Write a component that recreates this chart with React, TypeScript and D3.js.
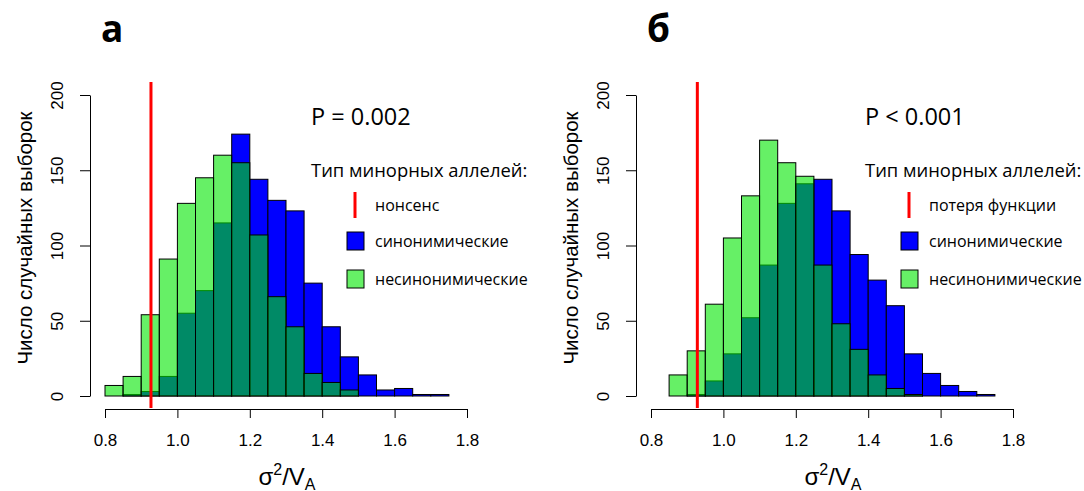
import React, { useRef, useEffect } from 'react';
import { select, scaleLinear, axisLeft, axisBottom, format } from 'd3';

// left edges of the histogram bins (width 0.05)
const binStarts = [0.8, 0.85, 0.9, 0.95, 1.0, 1.05, 1.1, 1.15, 1.2, 1.25, 1.3, 1.35, 1.4, 1.45, 1.5, 1.55, 1.6, 1.65, 1.7, 1.75];
const binWidth = 0.05;

// panel а
const synonymousA = [0, 1, 3, 13, 55, 70, 115, 174, 144, 130, 123, 75, 46, 26, 14, 4, 5, 1, 1, 0];
const nonsynonymousA = [7, 13, 54, 91, 128, 145, 160, 155, 107, 66, 46, 15, 9, 4, 0, 0, 0, 0, 0, 0];
// panel б
const synonymousB = [0, 0, 1, 10, 28, 52, 87, 128, 141, 144, 123, 94, 77, 60, 28, 15, 7, 3, 1, 0];
const nonsynonymousB = [0, 14, 30, 61, 105, 133, 170, 155, 146, 87, 48, 31, 14, 5, 1, 0, 0, 0, 0, 0];

const cutoffA = 0.927;
const cutoffB = 0.928;

const xTicks = [0.8, 1.0, 1.2, 1.4, 1.6, 1.8];
const yTicks = [0, 50, 100, 150, 200];

const legendTitle = 'Тип минорных аллелей:';
const legendSyn = 'синонимические';
const legendNonsyn = 'несинонимические';

const panels = [
  { dx: 0, lx: 311, title: 'а', pText: 'P = 0.002', redLabel: 'нонсенс', syn: synonymousA, nonsyn: nonsynonymousA, cutoff: cutoffA },
  { dx: 546, lx: 865, title: 'б', pText: 'P < 0.001', redLabel: 'потеря функции', syn: synonymousB, nonsyn: nonsynonymousB, cutoff: cutoffB },
];

const AXIS_FONT = '"Liberation Sans", Arial, sans-serif';
const TEXT_FONT = '"Open Sans", sans-serif';

function drawPanel(svg, p) {
  const g = svg.append('g');
  const x = scaleLinear().domain([0.8, 1.8]).range([105 + p.dx, 467 + p.dx]);
  const y = scaleLinear().domain([0, 200]).range([396, 95]);

  // synonymous bars first, then semi-transparent green on top
  g.selectAll('.syn')
    .data(p.syn)
    .join('rect')
    .attr('class', 'syn')
    .attr('x', (d, i) => x(binStarts[i]))
    .attr('width', (d, i) => x(binStarts[i] + binWidth) - x(binStarts[i]))
    .attr('y', d => y(d))
    .attr('height', d => y(0) - y(d))
    .attr('fill', '#0000ff')
    .attr('stroke', '#000')
    .attr('stroke-width', 1);

  g.selectAll('.nonsyn')
    .data(p.nonsyn)
    .join('rect')
    .attr('class', 'nonsyn')
    .attr('x', (d, i) => x(binStarts[i]))
    .attr('width', (d, i) => x(binStarts[i] + binWidth) - x(binStarts[i]))
    .attr('y', d => y(d))
    .attr('height', d => y(0) - y(d))
    .attr('fill', 'rgb(0,230,0)')
    .attr('fill-opacity', 0.6)
    .attr('stroke', '#000')
    .attr('stroke-width', 1);

  // y axis
  const ya = g.append('g')
    .attr('transform', `translate(${90 + p.dx},0)`)
    .call(axisLeft(y).tickValues(yTicks).tickSize(10).tickSizeOuter(0));
  ya.selectAll('text')
    .attr('transform', 'rotate(-90)')
    .attr('x', 0)
    .attr('y', -33)
    .attr('dy', '0.35em')
    .style('text-anchor', 'middle')
    .style('font-family', AXIS_FONT)
    .style('font-size', '17px')
    .attr('fill', '#000');

  g.append('text')
    .attr('transform', `translate(${32 + p.dx},238) rotate(-90)`)
    .attr('text-anchor', 'middle')
    .style('font-family', AXIS_FONT)
    .style('font-size', '20.5px')
    .text('Число случайных выборок');

  // x axis
  const xa = g.append('g')
    .attr('transform', 'translate(0,409)')
    .call(axisBottom(x).tickValues(xTicks).tickFormat(format('.1f')).tickSize(9).tickSizeOuter(0).tickPadding(16));
  xa.selectAll('text')
    .style('font-family', AXIS_FONT)
    .style('font-size', '17px')
    .attr('fill', '#000');
  [ya, xa].forEach(a => {
    a.selectAll('path, line').attr('stroke', '#000').attr('stroke-width', 1);
  });

  const xl = g.append('text')
    .attr('x', 287 + p.dx)
    .attr('y', 485)
    .attr('text-anchor', 'middle')
    .style('font-family', AXIS_FONT)
    .style('font-size', '24px');
  xl.append('tspan').text('σ');
  xl.append('tspan').attr('dy', -10).style('font-size', '16px').text('2');
  xl.append('tspan').attr('dy', 10).text('/V');
  xl.append('tspan').attr('dy', 5).style('font-size', '16px').text('A');

  // cutoff line
  g.append('line')
    .attr('x1', x(p.cutoff)).attr('x2', x(p.cutoff))
    .attr('y1', 82).attr('y2', 408)
    .attr('stroke', '#ff0000')
    .attr('stroke-width', 3);

  // panel letter
  g.append('text')
    .attr('x', 101 + p.dx)
    .attr('y', 42)
    .style('font-family', TEXT_FONT)
    .style('font-weight', 700)
    .style('font-size', '37px')
    .text(p.title);

  // P value and legend
  const lx = p.lx;
  g.append('text')
    .attr('x', lx).attr('y', 125)
    .style('font-family', TEXT_FONT)
    .style('font-size', '23.5px')
    .text(p.pText);
  g.append('text')
    .attr('x', lx).attr('y', 177)
    .style('font-family', TEXT_FONT)
    .style('font-size', '18.4px')
    .text(legendTitle);

  g.append('line')
    .attr('x1', lx + 44).attr('x2', lx + 44)
    .attr('y1', 192).attr('y2', 218)
    .attr('stroke', '#ff0000')
    .attr('stroke-width', 3);
  g.append('rect')
    .attr('x', lx + 36).attr('y', 232).attr('width', 17).attr('height', 18)
    .attr('fill', '#0000ff').attr('stroke', '#000');
  g.append('rect')
    .attr('x', lx + 36).attr('y', 270).attr('width', 17).attr('height', 18)
    .attr('fill', 'rgb(0,230,0)').attr('fill-opacity', 0.6).attr('stroke', '#000');

  const items = [[p.redLabel, 211], [legendSyn, 247], [legendNonsyn, 285]];
  items.forEach(([label, yy]) => {
    g.append('text')
      .attr('x', lx + 64).attr('y', yy)
      .style('font-family', TEXT_FONT)
      .style('font-size', '16px')
      .text(label);
  });
}

export default function App() {
  const svgRef = useRef(null);

  useEffect(() => {
    const svg = select(svgRef.current);
    svg.selectAll('*').remove();
    panels.forEach(p => drawPanel(svg, p));
  }, []);

  return (
    <svg
      ref={svgRef}
      width={1084}
      height={491}
      style={{ position: 'absolute', left: 0, top: 0, background: '#fff' }}
    />
  );
}
